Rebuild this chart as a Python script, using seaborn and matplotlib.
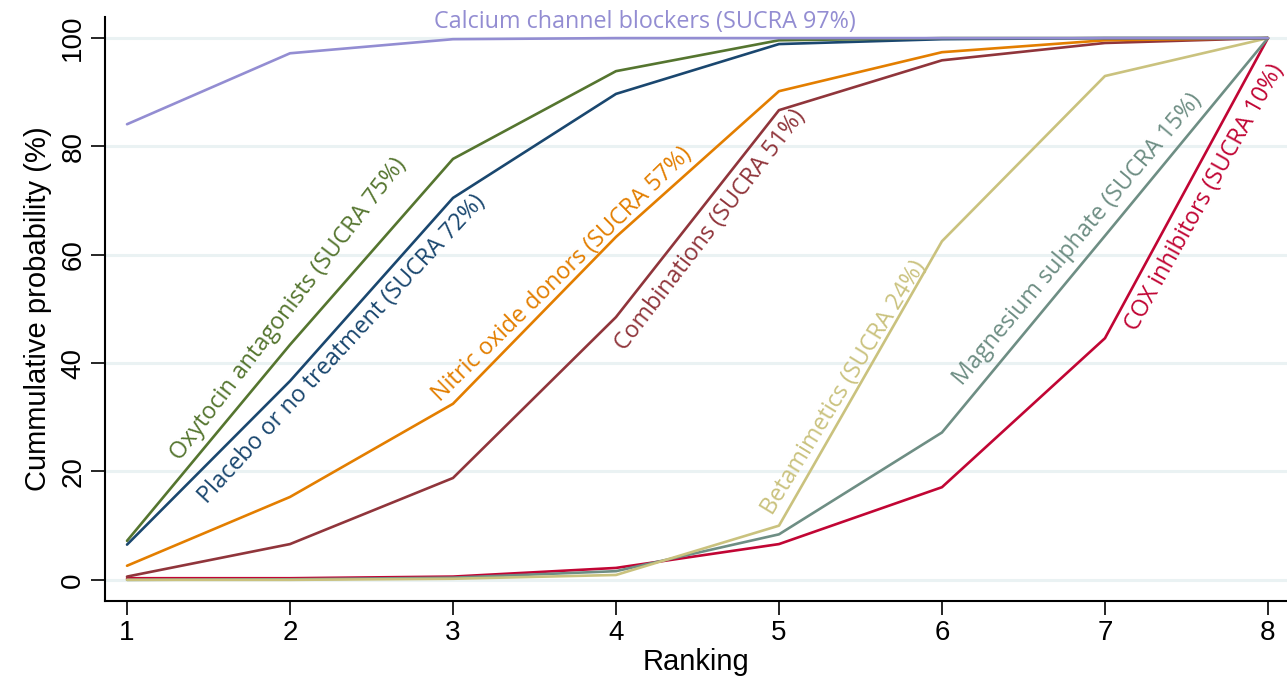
import pandas as pd
import numpy as np
import matplotlib
matplotlib.use("Agg")
import matplotlib.pyplot as plt
import seaborn as sns

# rank positions
ranks = [1, 2, 3, 4, 5, 6, 7, 8]

# cumulative probabilities (%)
calcium = [84.1, 97.2, 99.8, 100, 100, 100, 100, 100]
oxytocin = [7.2, 43.4, 77.7, 93.9, 99.6, 100, 100, 100]
placebo = [6.5, 36.7, 70.5, 89.7, 98.9, 99.8, 100, 100]
nitric = [2.6, 15.3, 32.5, 63.3, 90.2, 97.4, 99.6, 100]
combinations = [0.6, 6.6, 18.8, 48.5, 86.7, 95.9, 99.1, 100]
betamimetics = [0.0, 0.0, 0.2, 0.9, 10.0, 62.5, 93.0, 100]
magnesium = [0.0, 0.1, 0.4, 1.6, 8.4, 27.2, 63.5, 100]
cox = [0.3, 0.3, 0.6, 2.2, 6.6, 17.1, 44.6, 100]

treatments = ["Calcium channel blockers", "Oxytocin antagonists", "Placebo or no treatment",
              "Nitric oxide donors", "Combinations", "Betamimetics",
              "Magnesium sulphate", "COX inhibitors"]
sucra = [97, 75, 72, 57, 51, 24, 15, 10]
series = [calcium, oxytocin, placebo, nitric, combinations, betamimetics, magnesium, cox]

# stata s2color style colours
colours = ["#938dd2", "#55752f", "#1a476f", "#e37e00", "#90353b", "#cac27e", "#6e8e84", "#c10534"]

# label placement (x, y in data units, angle in degrees)
lab_x = [4.18, 1.99, 2.32, 3.67, 4.58, 5.40, 6.83, 7.61]
lab_y = [103.0, 50.0, 42.5, 56.3, 64.5, 35.4, 62.8, 70.5]
lab_rot = [0, 52.7, 47.3, 44.4, 52.5, 58.5, 50.0, 60.8]

rows = []
for name, vals in zip(treatments, series):
    for r, v in zip(ranks, vals):
        rows.append({"Ranking": r, "prob": v, "treatment": name})
df = pd.DataFrame(rows)

sns.set_style("white")
plt.rcParams['font.family'] = ['Liberation Sans', 'DejaVu Sans']

fig = plt.figure(figsize=(12.87, 6.93), dpi=100)
ax = fig.add_axes([0.0816, 0.1328, 0.9184, 0.8427])

for y in [0, 20, 40, 60, 80, 100]:
    ax.axhline(y, color="#eaf2f3", lw=2.2, zorder=0)

sns.lineplot(data=df, x="Ranking", y="prob", hue="treatment", hue_order=treatments[::-1],
             palette=dict(zip(treatments, colours)), linewidth=1.9, legend=False, ax=ax)

for name, s, c, x, y, rot in zip(treatments, sucra, colours, lab_x, lab_y, lab_rot):
    ax.text(x, y, f"{name} (SUCRA {s}%)", color=c, fontsize=16.8, rotation=rot,
            rotation_mode="anchor", ha="center", va="center", family="Open Sans")

ax.set_xlim(0.865, 8.117)
ax.set_ylim(-3.9, 103.9)
ax.set_xticks(ranks)
ax.set_yticks([0, 20, 40, 60, 80, 100])
ax.tick_params(axis="both", which="both", direction="out", length=10, width=1.2,
               labelsize=20, color="black", labelcolor="black", bottom=True, left=True)
for lab in ax.get_yticklabels():
    lab.set_rotation(90)
    lab.set_va("center")
ax.set_xlabel("Ranking", fontsize=21, labelpad=2, color="black")
ax.set_ylabel("Cummulative probability (%)", fontsize=21, labelpad=6, color="black")
sns.despine(ax=ax, top=True, right=True)
ax.spines["left"].set_linewidth(1.5)
ax.spines["bottom"].set_linewidth(1.5)
ax.spines["left"].set_color("black")
ax.spines["bottom"].set_color("black")
ax.grid(False)

fig.savefig("out.png", dpi=100)
